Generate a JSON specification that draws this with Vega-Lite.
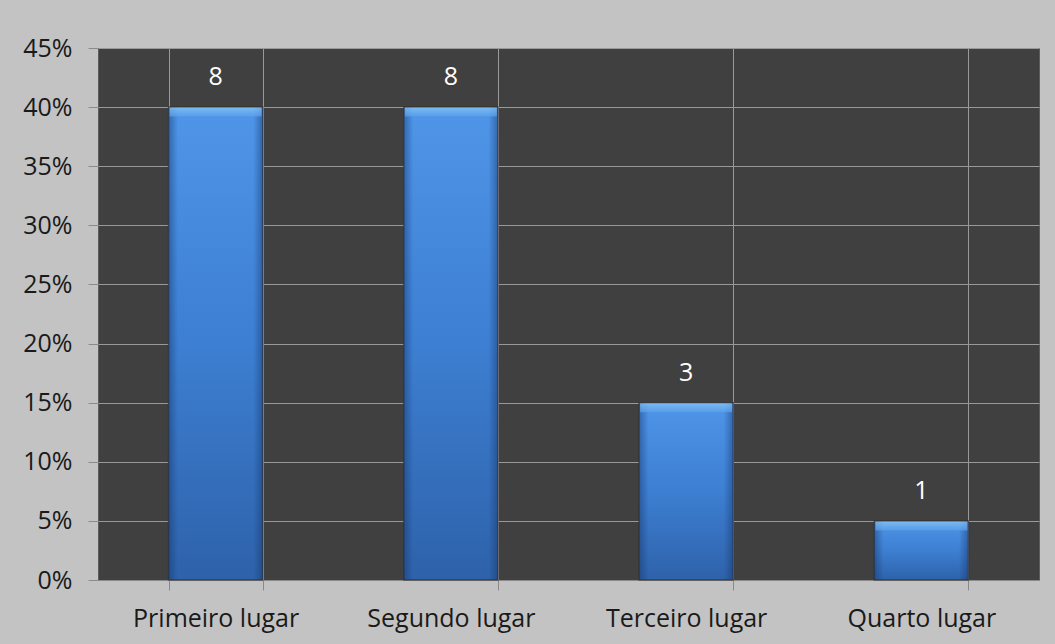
{
  "$schema": "https://vega.github.io/schema/vega-lite/v6.json",
  "autosize": "none",
  "width": 941,
  "height": 532,
  "padding": {"left": 98, "top": 48, "right": 16, "bottom": 64},
  "background": "#c3c3c3",
  "config": {
    "font": "Open Sans",
    "view": {"fill": "#404040", "stroke": "#5c5c5c", "strokeWidth": 1},
    "axis": {
      "labelFont": "Open Sans",
      "labelFontSize": 25,
      "labelColor": "#1a1a1a",
      "gridColor": "#999999",
      "gridWidth": 1,
      "gridOpacity": 1,
      "tickColor": "#8a8a8a",
      "domainColor": "#8a8a8a",
      "title": null
    }
  },
  "data": {
    "values": [
      {"lugar": "Primeiro lugar", "votos": 8, "percentual": 0.40},
      {"lugar": "Segundo lugar", "votos": 8, "percentual": 0.40},
      {"lugar": "Terceiro lugar", "votos": 3, "percentual": 0.15},
      {"lugar": "Quarto lugar", "votos": 1, "percentual": 0.05}
    ]
  },
  "encoding": {
    "x": {
      "field": "lugar",
      "type": "nominal",
      "sort": null,
      "scale": {"paddingInner": 0.6, "paddingOuter": 0.3},
      "axis": {
        "labelAngle": 0,
        "tickBand": "extent",
        "tickSize": 10,
        "labelPadding": 16,
        "grid": true,
        "domain": true
      }
    },
    "y": {
      "field": "percentual",
      "type": "quantitative",
      "scale": {"domain": [0, 0.45], "nice": false},
      "axis": {
        "format": ".0%",
        "values": [0, 0.05, 0.1, 0.15, 0.2, 0.25, 0.3, 0.35, 0.4, 0.45],
        "tickSize": 10,
        "labelPadding": 16,
        "domain": false,
        "grid": true
      }
    }
  },
  "layer": [
    {
      "mark": {
        "type": "bar",
        "stroke": "#2e2a28",
        "strokeWidth": 1.5,
        "strokeOpacity": 0.6,
        "color": {
          "gradient": "linear",
          "x1": 0, "y1": 0, "x2": 0, "y2": 1,
          "stops": [
            {"offset": 0, "color": "#4f95e8"},
            {"offset": 0.5, "color": "#3d7fd2"},
            {"offset": 1, "color": "#2e62aa"}
          ]
        }
      }
    },
    {
      "mark": {
        "type": "bar",
        "color": {
          "gradient": "linear",
          "x1": 0, "y1": 0, "x2": 1, "y2": 0,
          "stops": [
            {"offset": 0, "color": "rgba(20,50,100,0.45)"},
            {"offset": 0.1, "color": "rgba(20,50,100,0)"},
            {"offset": 0.9, "color": "rgba(20,50,100,0)"},
            {"offset": 1, "color": "rgba(20,50,100,0.45)"}
          ]
        }
      }
    },
    {
      "mark": {
        "type": "tick",
        "thickness": 9,
        "yOffset": 5,
        "size": 92,
        "color": {
          "gradient": "linear",
          "x1": 0, "y1": 0, "x2": 0, "y2": 1,
          "stops": [
            {"offset": 0, "color": "#8fcaf8"},
            {"offset": 1, "color": "#5aa0ea"}
          ]
        }
      }
    },
    {
      "mark": {
        "type": "text",
        "baseline": "alphabetic",
        "dy": -22,
        "fontSize": 25,
        "color": "#ffffff"
      },
      "encoding": {
        "text": {"field": "votos", "type": "quantitative"}
      }
    }
  ]
}
